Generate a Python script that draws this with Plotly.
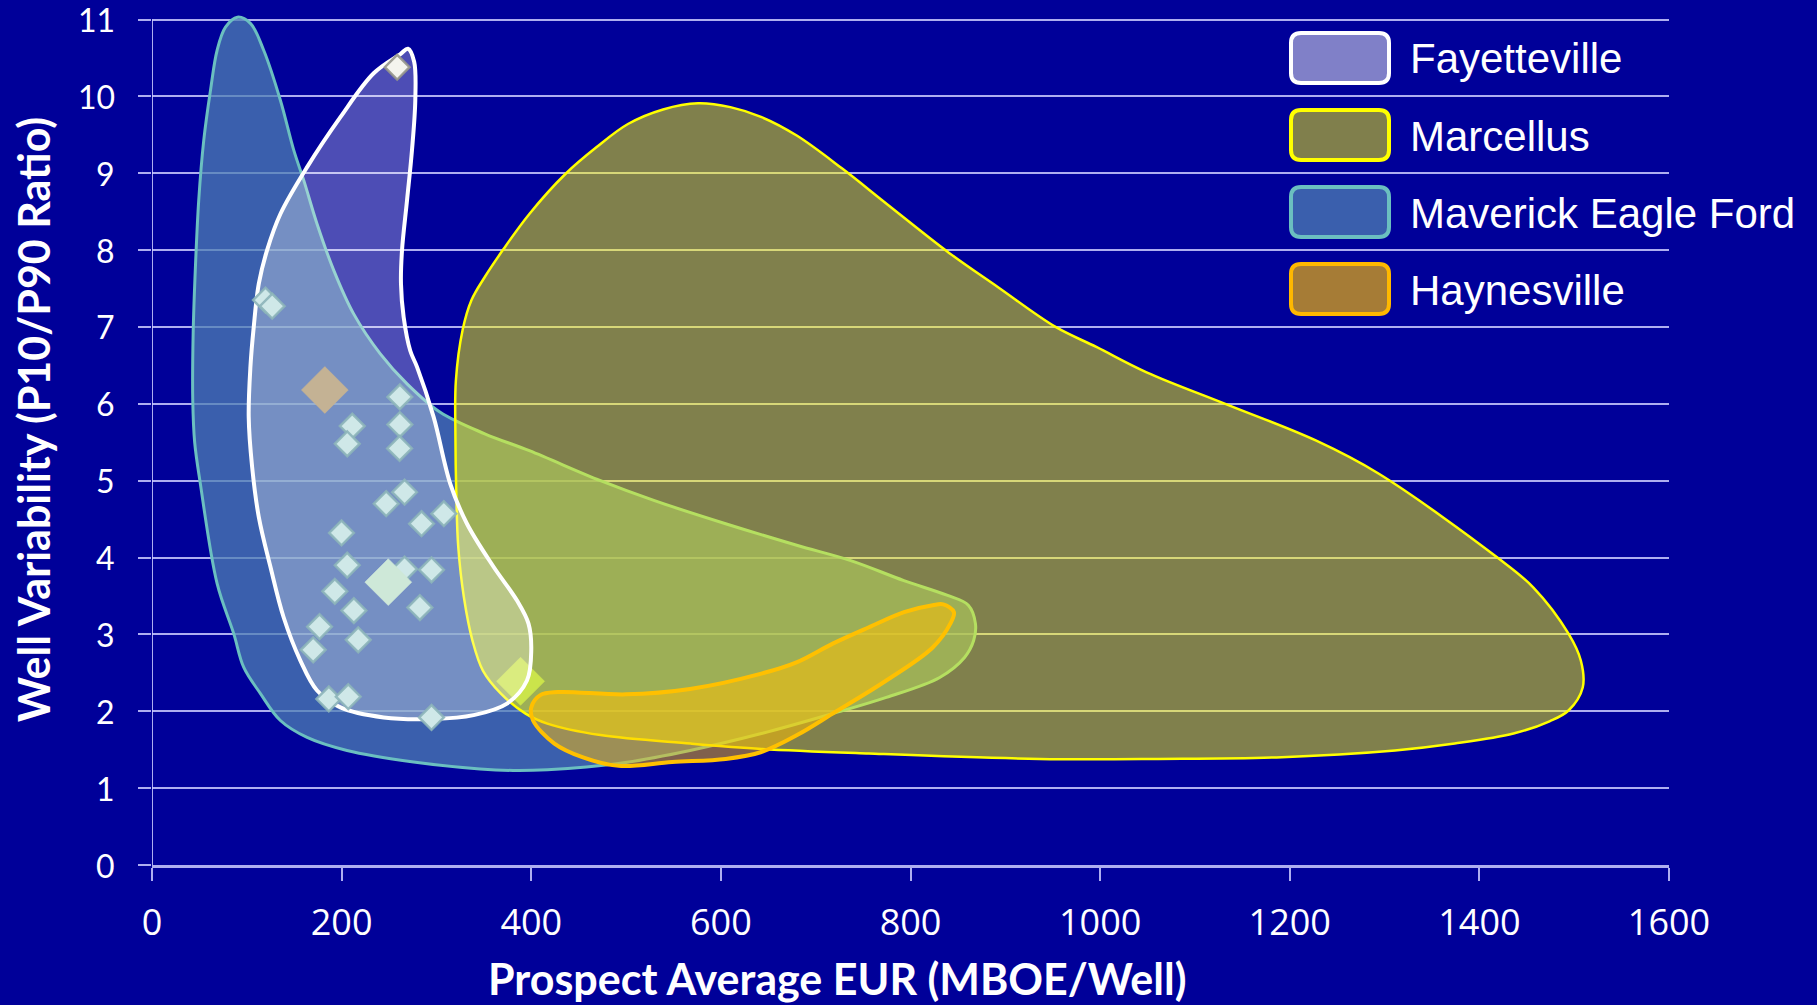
import plotly.graph_objects as go

# ---------------- data ----------------
# Region outlines (closed, first point repeated at the end)
maverick_x = [43, 45, 51, 68.7, 86.2, 96.8, 114.4, 135.4, 163.6, 205.7, 275.9, 346, 381, 417, 492,
              567.5, 642.7, 718, 774.5, 830.8, 857, 866.6, 868.5, 861, 838.4, 793, 737, 680, 605,
              530, 473, 398, 351, 304, 269, 240.8, 212.7, 191.6, 174.1, 160, 149.5, 135.4, 117.8,
              103.8, 90, 77.5, 68.7, 61.7, 54.6, 49.3, 45.8, 43.4, 43]
maverick_y = [6.04, 5.5, 4.96, 3.66, 3.01, 2.57, 2.23, 1.88, 1.66, 1.49, 1.34, 1.25, 1.23, 1.24, 1.32,
              1.49, 1.71, 1.97, 2.18, 2.44, 2.70, 2.92, 3.14, 3.38, 3.51, 3.70, 3.96, 4.16, 4.44,
              4.74, 5.0, 5.39, 5.61, 5.89, 6.26, 6.65, 7.17, 7.74, 8.34, 8.91, 9.30, 9.95, 10.6,
              10.95, 11.03, 10.9, 10.6, 10.08, 9.43, 8.65, 7.78, 6.91, 6.04]

marcellus_x = [320, 320.5, 327.6, 337, 351, 370, 398, 436, 469, 502, 539, 576, 610, 643, 680, 728,
               775, 840, 892, 953, 996, 1049, 1136, 1228, 1294, 1419, 1457, 1494, 1507, 1509, 1494,
               1474, 1436, 1374, 1311, 1186, 1061, 936, 756, 643, 568, 473, 417, 394, 368, 349,
               338, 329, 323, 321, 320]
marcellus_y = [5.6, 6.30, 6.96, 7.35, 7.65, 8.0, 8.47, 8.99, 9.34, 9.64, 9.83, 9.91, 9.86, 9.73, 9.49,
               9.06, 8.60, 7.97, 7.52, 7.0, 6.74, 6.41, 5.98, 5.52, 5.09, 4.0, 3.61, 3.01, 2.66,
               2.31, 2.01, 1.87, 1.71, 1.58, 1.49, 1.40, 1.38, 1.38, 1.45, 1.51, 1.58, 1.69, 1.84,
               1.97, 2.23, 2.53, 2.92, 3.48, 4.14, 4.8, 5.6]

fayetteville_x = [102, 105.6, 112.6, 124.9, 138.9, 156.5, 174.1, 198.7, 244.3, 297, 339.2, 374.4,
                  395.5, 400, 397.1, 385, 360.2, 332.2, 314.6, 297, 279.5, 272.4, 265.4, 262.6,
                  263.7, 269, 274.2, 277.7, 276.5, 270, 262, 233.8, 198.7, 163.6, 135.4, 121.4,
                  112.6, 107.3, 103.8, 102]
fayetteville_y = [5.83, 5.18, 4.53, 3.88, 3.22, 2.66, 2.27, 2.05, 1.92, 1.90, 1.95, 2.10,
                  2.40, 2.79, 3.14, 3.44, 3.88, 4.44, 4.96, 5.83, 6.48, 6.69, 7.13, 7.56,
                  8.0, 8.65, 9.30, 9.95, 10.45, 10.62, 10.55, 10.3, 9.73, 9.08, 8.47, 8.0,
                  7.56, 7.0, 6.48, 5.83]

haynesville_x = [499.7, 567.5, 642.7, 680.4, 718, 755.6, 793.2, 823.4, 834.6, 845.8, 842, 823.4,
                 774.5, 718, 680.4, 642.7, 605, 548.6, 492.2, 454.6, 424.4, 401.9, 400, 409.5,
                 428.2, 499.7]
haynesville_y = [2.22, 2.29, 2.49, 2.64, 2.88, 3.09, 3.29, 3.38, 3.39, 3.29, 3.14, 2.83,
                 2.40, 1.97, 1.69, 1.47, 1.38, 1.34, 1.29, 1.40, 1.58, 1.88, 2.05, 2.21,
                 2.25, 2.22]

# Prospect points (diamonds)
well_x = [119.7, 126.8, 261.4, 211.2, 261.4, 205.9, 261.1, 266.4, 247, 307.8, 284.3, 199.9,
          205.9, 266.4, 294.8, 192.8, 212.9, 282.5, 176.7, 217.5, 170, 186.5, 207, 294.8]
well_y = [7.35, 7.27, 6.09, 5.71, 5.73, 5.48, 5.42, 4.85, 4.70, 4.57, 4.44, 4.32,
          3.90, 3.85, 3.84, 3.56, 3.31, 3.35, 3.10, 2.93, 2.80, 2.16, 2.19, 1.92]
top_well_x = [258.6]
top_well_y = [10.38]
big_tan_x = [182.3]
big_tan_y = [6.18]
big_green_x = [249.2]
big_green_y = [3.68]
yellow_pt_x = [388.7]
yellow_pt_y = [2.39]

x_ticks = [0, 200, 400, 600, 800, 1000, 1200, 1400, 1600]
y_ticks = list(range(0, 12))
Y_MAX = 11

legend_names = ["Fayetteville", "Marcellus", "Maverick Eagle Ford", "Haynesville"]
legend_fills = ["#8080C8", "#807F4C", "#3A5FAD", "#A67C36"]
legend_borders = ["#FFFFFF", "#FFFF00", "#6BBFC0", "#FFB800"]

# ---------------- layout constants ----------------
W, H = 1817, 1005
M_L, M_R, M_T, M_B = 152, 148, 11, 140
Y0_PX = H - M_B          # pixel row of y = 0
Y11_PX = 19.5            # pixel row of y = 11
PX_PER_Y = (Y0_PX - Y11_PX) / Y_MAX
Y_TOP = Y_MAX + (Y11_PX - M_T) / PX_PER_Y   # a little headroom so the peak is not clipped
PW = W - M_L - M_R
PH = H - M_T - M_B
BG = "#000099"
GRID = "rgba(205,205,255,0.85)"
TITLE_FONT = dict(family="Lato, sans-serif", size=43, color="white", weight="bold")


def pxx(px):
    return (px - M_L) / PW


def pxy(py):
    return (H - M_B - py) / PH


def rounded_rect(x0, y0, x1, y1, r):
    pts = [
        ("M", x0 + r, y0), ("L", x1 - r, y0), ("Q", x1, y0, x1, y0 + r),
        ("L", x1, y1 - r), ("Q", x1, y1, x1 - r, y1), ("L", x0 + r, y1),
        ("Q", x0, y1, x0, y1 - r), ("L", x0, y0 + r), ("Q", x0, y0, x0 + r, y0),
    ]
    s = ""
    for p in pts:
        if p[0] == "Q":
            s += f"Q{pxx(p[1]):.5f},{pxy(p[2]):.5f} {pxx(p[3]):.5f},{pxy(p[4]):.5f} "
        else:
            s += f"{p[0]}{pxx(p[1]):.5f},{pxy(p[2]):.5f} "
    return s + "Z"


fig = go.Figure()


def region(xs, ys, fill, line, width):
    fig.add_trace(go.Scatter(
        x=xs, y=ys, mode="lines", fill="toself", fillcolor=fill,
        line=dict(color=line, width=width, shape="spline", smoothing=1.0),
        hoverinfo="skip", showlegend=False))


def diamonds(xs, ys, size, color, lcolor, lwidth=2):
    fig.add_trace(go.Scatter(
        x=xs, y=ys, mode="markers",
        marker=dict(symbol="diamond", size=size, color=color,
                    line=dict(color=lcolor, width=lwidth)),
        hoverinfo="skip", showlegend=False))


region(maverick_x, maverick_y, "rgba(77,127,180,0.75)", "#6BBFC0", 3)
diamonds(yellow_pt_x, yellow_pt_y, 37, "rgb(150,200,150)", "rgba(150,200,150,0.6)", 1)
region(marcellus_x, marcellus_y, "rgba(255,255,0,0.5)", "#FFFF00", 2.5)
region(fayetteville_x, fayetteville_y, "rgba(255,255,250,0.3)", "#FFFFFF", 4)
region(haynesville_x, haynesville_y, "rgba(255,192,0,0.5)", "#FFC000", 4)
diamonds(well_x, well_y, 19, "#CFE8E8", "rgba(140,180,185,0.9)", 2.5)
diamonds(big_tan_x, big_tan_y, 36, "#C4B294", "rgba(196,178,148,0.6)", 1)
diamonds(big_green_x, big_green_y, 36, "#CEE8D8", "rgba(206,232,216,0.6)", 1)
diamonds(top_well_x, top_well_y, 19, "#F4F4EE", "rgba(150,150,140,0.9)", 2.5)

shapes = []
annotations = []

# y axis line (only up to the top gridline)
shapes.append(dict(type="line", xref="x", yref="y", x0=0, x1=0, y0=0, y1=Y_MAX,
                   line=dict(color=GRID, width=2), layer="above"))

# y tick labels (drawn as annotations so the top one is never dropped)
for v in y_ticks:
    annotations.append(dict(xref="paper", yref="y", x=pxx(117), y=v,
                            xanchor="right", yanchor="middle", showarrow=False,
                            text=str(v),
                            font=dict(family="Lato, sans-serif", size=32, color="white")))

# custom legend
box_l, box_r = 1291, 1389
centers = [58, 135, 212, 289]
for name, fc, bc, cy in zip(legend_names, legend_fills, legend_borders, centers):
    shapes.append(dict(type="path", xref="paper", yref="paper",
                       path=rounded_rect(box_l, cy - 25, box_r, cy + 25, 10),
                       fillcolor=fc, line=dict(color=bc, width=4), layer="above"))
    annotations.append(dict(xref="paper", yref="paper", x=pxx(1408), y=pxy(cy + 1),
                            xanchor="left", yanchor="middle", showarrow=False, text=name,
                            font=dict(family="Liberation Sans, Arial, sans-serif", size=42,
                                      color="white")))

# axis titles
annotations.append(dict(xref="paper", yref="paper", x=pxx(837), y=pxy(978),
                        xanchor="center", yanchor="middle", showarrow=False,
                        text="Prospect Average EUR (MBOE/Well)", font=TITLE_FONT))
annotations.append(dict(xref="paper", yref="paper", x=pxx(33), y=pxy(420),
                        xanchor="center", yanchor="middle", showarrow=False, textangle=-90,
                        text="Well Variability (P10/P90 Ratio)", font=TITLE_FONT))

fig.update_layout(
    width=W, height=H,
    margin=dict(l=M_L, r=M_R, t=M_T, b=M_B, pad=0),
    paper_bgcolor=BG, plot_bgcolor=BG,
    shapes=shapes, annotations=annotations,
    showlegend=False,
)
fig.update_xaxes(
    range=[0, 1600], tickvals=x_ticks, ticktext=[str(v) for v in x_ticks],
    showgrid=False, zeroline=False, showline=True, linecolor=GRID, linewidth=3,
    ticks="outside", ticklen=13, tickwidth=1.5, tickcolor=GRID,
    ticklabelstandoff=11,
    tickfont=dict(family="Open Sans, Lato, sans-serif", size=36, color="white"),
)
fig.update_yaxes(
    range=[0, Y_TOP], tickvals=y_ticks, showticklabels=False,
    showgrid=True, gridcolor=GRID, gridwidth=2, zeroline=False,
    showline=False,
    ticks="outside", ticklen=13, tickwidth=1.5, tickcolor=GRID,
)

fig.write_html("out.html", config={"displayModeBar": False},
               post_script="document.body.style.margin='0px';")
